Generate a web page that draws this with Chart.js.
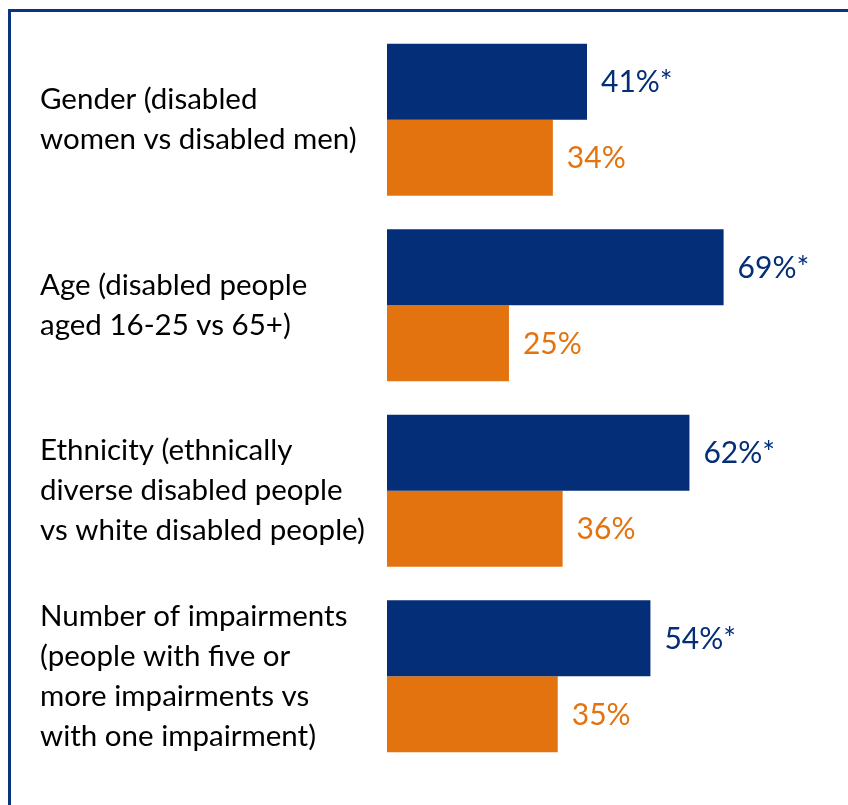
<!DOCTYPE html>
<html>
<head>
<meta charset="utf-8">
<script src="https://cdn.jsdelivr.net/npm/chart.js@4/dist/chart.umd.min.js"></script>
<style>
    html, body { margin: 0; padding: 0; background: #fff; overflow: hidden; }
    #frame {
        position: absolute; left: 8px; top: 9px; width: 900px; height: 900px;
        border-top: 3px solid #0A3380; border-left: 3px solid #0A3380;
    }
    #wrap { position: absolute; left: 0; top: 0; width: 848px; height: 805px; }
</style>
</head>
<body>
<div id="frame"></div>
<div id="wrap"><canvas id="gapChart"></canvas></div>
<script>
// Data
const categories = [
    ['Gender (disabled', 'women vs disabled men)'],
    ['Age (disabled people', 'aged 16-25 vs 65+)'],
    ['Ethnicity (ethnically', 'diverse disabled people', 'vs white disabled people)'],
    ['Number of impairments', '(people with five or', 'more impairments vs', 'with one impairment)']
];
const firstGroup = [41, 69, 62, 54];    // disabled women / 16-25 / ethnically diverse / five+ impairments
const secondGroup = [34, 25, 36, 35];   // disabled men / 65+ / white / one impairment
const firstSuffix = ['*', '*', '*', '*']; // significant difference marker

const NAVY = '#042E77';
const ORANGE = '#E3730F';
const FONT = 'Lato, "Open Sans", sans-serif';

// Value labels drawn at the end of each bar
const valueLabels = {
    id: 'valueLabels',
    afterDatasetsDraw(chart) {
        const ctx = chart.ctx;
        ctx.save();
        ctx.font = '30px ' + FONT;
        ctx.textBaseline = 'middle';
        ctx.textAlign = 'left';
        chart.data.datasets.forEach((ds, i) => {
            const meta = chart.getDatasetMeta(i);
            meta.data.forEach((bar, j) => {
                const suffix = i === 0 ? firstSuffix[j] : '';
                ctx.fillStyle = ds.backgroundColor;
                ctx.fillText(ds.data[j] + '%' + suffix, bar.x + 14, bar.y + 1);
            });
        });
        ctx.restore();
    }
};

const ctx = document.getElementById('gapChart').getContext('2d');
new Chart(ctx, {
    type: 'bar',
    data: {
        labels: categories,
        datasets: [
            { data: firstGroup, backgroundColor: NAVY, barPercentage: 1, categoryPercentage: 0.82 },
            { data: secondGroup, backgroundColor: ORANGE, barPercentage: 1, categoryPercentage: 0.82 }
        ]
    },
    options: {
        indexAxis: 'y',
        responsive: true,
        maintainAspectRatio: false,
        animation: false,
        layout: { padding: { left: 40, top: 27, bottom: 36, right: 0 } },
        plugins: { legend: { display: false }, tooltip: { enabled: false } },
        scales: {
            x: { display: false, min: 0, max: 94.5 },
            y: {
                grid: { display: false },
                border: { display: false },
                ticks: {
                    crossAlign: 'far',
                    color: '#000',
                    padding: 0,
                    font: { family: FONT, size: 29.5, lineHeight: 1.356 }
                },
                afterFit(scale) {
                    scale.width = 347;
                    scale.paddingTop = 0;
                    scale.paddingBottom = 0;
                }
            }
        }
    },
    plugins: [valueLabels]
});
</script>
</body>
</html>
